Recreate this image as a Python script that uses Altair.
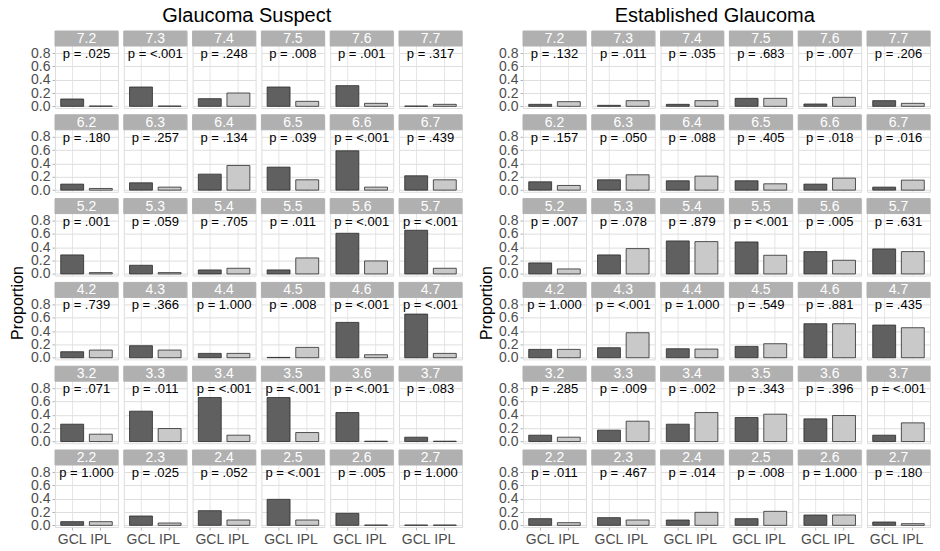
import altair as alt
import pandas as pd

rows = ["7", "6", "5", "4", "3", "2"]
cols = ["2", "3", "4", "5", "6", "7"]
layers = ["GCL", "IPL"]

# Glaucoma Suspect (row-major: 7.2 ... 7.7, 6.2 ... 2.7)
gs_gcl = [0.11, 0.29, 0.115, 0.29, 0.31, 0.005,
          0.09, 0.11, 0.24, 0.345, 0.59, 0.215,
          0.285, 0.13, 0.06, 0.06, 0.61, 0.655,
          0.09, 0.18, 0.065, 0.005, 0.53, 0.655,
          0.26, 0.455, 0.66, 0.66, 0.435, 0.065,
          0.055, 0.14, 0.22, 0.39, 0.18, 0.005]
gs_ipl = [0.005, 0.005, 0.20, 0.075, 0.045, 0.03,
          0.025, 0.045, 0.37, 0.155, 0.045, 0.155,
          0.02, 0.02, 0.085, 0.24, 0.195, 0.085,
          0.115, 0.115, 0.065, 0.155, 0.045, 0.065,
          0.11, 0.195, 0.095, 0.135, 0.005, 0.005,
          0.055, 0.035, 0.08, 0.08, 0.005, 0.005]
gs_p = [".025", "<.001", ".248", ".008", ".001", ".317",
        ".180", ".257", ".134", ".039", "<.001", ".439",
        ".001", ".059", ".705", ".011", "<.001", "<.001",
        ".739", ".366", "1.000", ".008", "<.001", "<.001",
        ".071", ".011", "<.001", "<.001", "<.001", ".083",
        "1.000", ".025", ".052", "<.001", ".005", "1.000"]

# Established Glaucoma
eg_gcl = [0.03, 0.015, 0.03, 0.12, 0.035, 0.085,
          0.125, 0.155, 0.14, 0.14, 0.09, 0.045,
          0.165, 0.285, 0.495, 0.48, 0.335, 0.375,
          0.125, 0.15, 0.135, 0.17, 0.51, 0.49,
          0.095, 0.17, 0.26, 0.36, 0.34, 0.095,
          0.10, 0.115, 0.08, 0.10, 0.155, 0.05]
eg_ipl = [0.07, 0.085, 0.085, 0.12, 0.135, 0.045,
          0.07, 0.23, 0.21, 0.095, 0.18, 0.15,
          0.075, 0.38, 0.485, 0.28, 0.205, 0.335,
          0.125, 0.375, 0.13, 0.21, 0.51, 0.45,
          0.065, 0.305, 0.435, 0.41, 0.39, 0.28,
          0.04, 0.08, 0.195, 0.21, 0.155, 0.025]
eg_p = [".132", ".011", ".035", ".683", ".007", ".206",
        ".157", ".050", ".088", ".405", ".018", ".016",
        ".007", ".078", ".879", "<.001", ".005", ".631",
        "1.000", "<.001", "1.000", ".549", ".881", ".435",
        ".285", ".009", ".002", ".343", ".396", "<.001",
        ".011", ".467", ".014", ".008", "1.000", ".180"]

major_ticks = [0.0, 0.2, 0.4, 0.6, 0.8]
minor_ticks = [0.1, 0.3, 0.5, 0.7]
y_title = ["Proportion"]

W = 63
H = 77
STRIP = 15
FONT = "Liberation Sans"


def make_df(gcl, ipl, pv):
    recs = []
    i = 0
    for r in rows:
        for c in cols:
            for lay, vals in (("GCL", gcl), ("IPL", ipl)):
                recs.append({"row": r, "col": c, "cell": f"{r}.{c}",
                             "layer": lay, "value": vals[i],
                             "p": "p = " + pv[i]})
            i += 1
    return pd.DataFrame(recs)


ydom = [-0.025, 1.13]
yscale = alt.Scale(domain=ydom, nice=False, zero=False)
yaxis = alt.Axis(
    values=major_ticks, format=".1f",
    labelFont=FONT, labelFontSize=14, labelColor="#4d4d4d", labelPadding=2,
    labelOverlap=False, labelBound=False, labelFlush=False,
    tickSize=3, tickColor="#b3b3b3", gridColor="#dedede",
    domain=False, title=None,
)
yaxis_minor = alt.Axis(
    values=minor_ticks, orient="left", labels=False, ticks=False, domain=False,
    gridColor="#efefef", title=None,
)
xscale = alt.Scale(paddingInner=0.2, paddingOuter=0.2)
xaxis = alt.Axis(title=None, labelFont=FONT, labelFontSize=14, labelColor="#4d4d4d",
                 labelAngle=0, domain=False, tickSize=3, tickColor="#b3b3b3",
                 grid=True, gridColor="#e6e6e6", bandPosition=0.5, labelPadding=2)


def panel_chart(df, title):
    base = alt.Chart(df)
    bars = base.mark_bar(stroke="#2b2b2b", strokeWidth=0.8).encode(
        x=alt.X("layer:N", sort=layers, scale=xscale, axis=xaxis),
        y=alt.Y("value:Q", scale=yscale, axis=yaxis),
        color=alt.Color("layer:N", sort=layers,
                        scale=alt.Scale(domain=layers, range=["#606060", "#c9c9c9"]),
                        legend=None),
    )
    one = base.transform_filter(alt.datum.layer == "GCL")
    strip = one.mark_rect(color="#b0b0b0", stroke="#b0b0b0").encode(
        x=alt.value(0), x2=alt.value(W), y=alt.value(0), y2=alt.value(STRIP)
    )
    strip_txt = one.mark_text(color="white", font=FONT, fontSize=14,
                              baseline="middle").encode(
        x=alt.value(W / 2), y=alt.value(STRIP / 2 + 0.5), text="cell:N"
    )
    ptxt = one.mark_text(color="#000000", font=FONT, fontSize=13,
                         baseline="middle").encode(
        x=alt.value(W / 2),
        y=alt.Y(datum=0.785, scale=yscale, axis=yaxis_minor),
        text="p:N",
    )
    layered = alt.layer(bars, strip, strip_txt, ptxt).resolve_axis(
        y="independent").properties(width=W, height=H)
    return layered.facet(
        row=alt.Row("row:N", sort=rows,
                    header=alt.Header(labels=False, title=None)),
        column=alt.Column("col:N", sort=cols,
                          header=alt.Header(labels=False, title=None)),
        spacing={"row": 6.8, "column": 5.8},
        bounds="flush",
    ).properties(
        title=alt.TitleParams(title, font=FONT, fontSize=20, fontWeight="normal",
                              color="#000000", anchor="middle", offset=4)
    )


def ytitle_chart():
    return alt.Chart(pd.DataFrame({"t": y_title})).mark_text(
        angle=270, font=FONT, fontSize=16, color="#000000", baseline="middle"
    ).encode(
        text="t:N", x=alt.value(7), y=alt.value(272)
    ).properties(width=14, height=500, view=alt.ViewConfig(stroke=None))


left = alt.hconcat(ytitle_chart(),
                   panel_chart(make_df(gs_gcl, gs_ipl, gs_p), "Glaucoma Suspect"),
                   spacing=4)
right = alt.hconcat(ytitle_chart(),
                    panel_chart(make_df(eg_gcl, eg_ipl, eg_p), "Established Glaucoma"),
                    spacing=3)

chart = alt.hconcat(left, right, spacing=16).configure_view(
    stroke="#b3b3b3", strokeWidth=1
).configure(padding={"left": 2, "top": -2, "right": 0, "bottom": 0})

chart.save("out.html", embed_options={"renderer": "svg", "actions": False})
